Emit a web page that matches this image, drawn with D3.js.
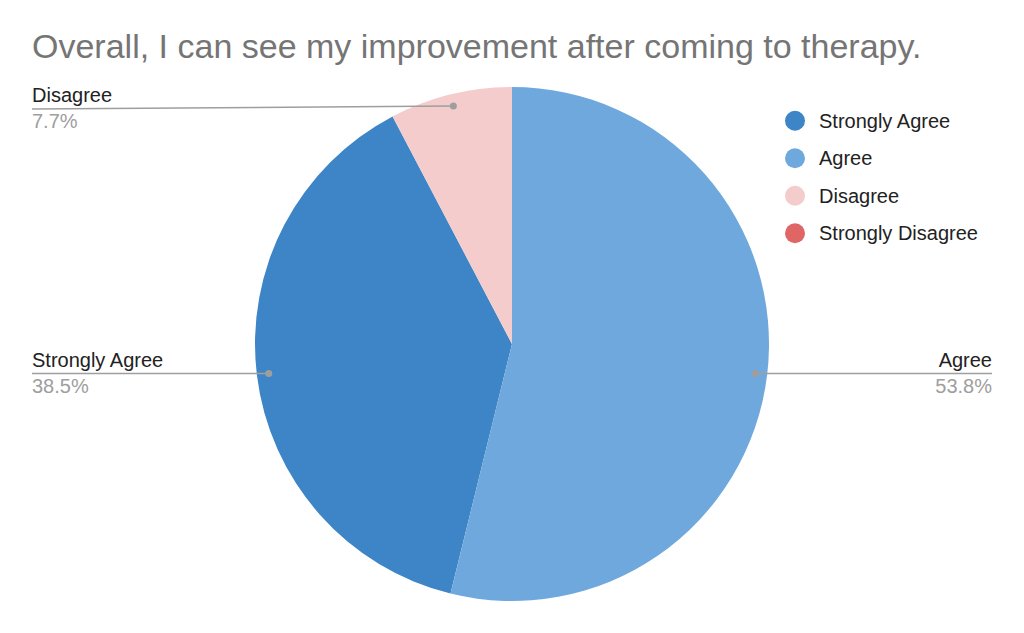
<!DOCTYPE html>
<html>
<head>
<meta charset="utf-8">
<script src="https://cdn.jsdelivr.net/npm/d3@7"></script>
<style>
  html, body { margin: 0; padding: 0; background: #fff; }
  svg { display: block; font-family: Arial, "Liberation Sans", sans-serif; }
</style>
</head>
<body>
<svg id="chart" width="1024" height="633"></svg>
<script>
const titleText = "Overall, I can see my improvement after coming to therapy.";
const categories = ["Strongly Agree", "Agree", "Disagree", "Strongly Disagree"];
const counts = [5, 7, 1, 0];
const colors = ["#3d85c6", "#6fa8dc", "#f4cccc", "#e06666"];
// slice drawing order (clockwise from 12 o'clock)
const sliceOrder = ["Agree", "Strongly Agree", "Disagree", "Strongly Disagree"];

const W = 1024, H = 633;
const cx = 512, cy = 344, R = 257, dotR = 245;
const svg = d3.select("#chart");

svg.append("text")
  .attr("x", 32).attr("y", 58)
  .attr("font-size", 34)
  .attr("fill", "#757575")
  .text(titleText);

const color = d3.scaleOrdinal().domain(categories).range(colors);
const data = categories.map((c, i) => ({ name: c, value: counts[i] }));
const total = d3.sum(counts);

const pie = d3.pie()
  .value(d => d.value)
  .sort((a, b) => sliceOrder.indexOf(a.name) - sliceOrder.indexOf(b.name));
const arcs = pie(data);

const arc = d3.arc().innerRadius(0).outerRadius(R);
const dotArc = d3.arc().innerRadius(dotR).outerRadius(dotR);

const g = svg.append("g").attr("transform", `translate(${cx},${cy})`);
g.selectAll("path.slice")
  .data(arcs.filter(d => d.value > 0))
  .join("path")
  .attr("class", "slice")
  .attr("d", arc)
  .attr("fill", d => color(d.data.name));

// Leader lines and labels
const fmt = v => (v / total * 100).toFixed(1) + "%";
const leftX = 32, rightX = 992;
arcs.filter(d => d.value > 0).forEach(d => {
  const [dx, dy] = dotArc.centroid(d);
  const px = cx + dx, py = cy + dy;
  const left = dx < 0;
  const tx = left ? leftX : rightX;
  // label line sits slightly below the dot when the dot is in the upper part
  const ly = py < cy - R * 0.8 ? py + 3 : py;
  svg.append("line")
    .attr("x1", tx).attr("y1", ly)
    .attr("x2", px).attr("y2", py)
    .attr("stroke", "#9e9e9e").attr("stroke-width", 1.5);
  svg.append("circle")
    .attr("cx", px).attr("cy", py).attr("r", 3.5)
    .attr("fill", "#9e9e9e");
  svg.append("text")
    .attr("x", tx).attr("y", ly - 7)
    .attr("text-anchor", left ? "start" : "end")
    .attr("font-size", 20).attr("fill", "#222")
    .text(d.data.name);
  svg.append("text")
    .attr("x", tx).attr("y", ly + 19)
    .attr("text-anchor", left ? "start" : "end")
    .attr("font-size", 20).attr("fill", "#9e9e9e")
    .text(fmt(d.value));
});

// Legend
const legend = svg.append("g").attr("transform", "translate(795,120.7)");
const ly = d3.scalePoint().domain(categories).range([0, 112.5]);
const items = legend.selectAll("g.item").data(categories).join("g")
  .attr("class", "item")
  .attr("transform", c => `translate(0,${ly(c)})`);
items.append("circle").attr("r", 10).attr("fill", c => color(c));
items.append("text")
  .attr("x", 24).attr("y", 7)
  .attr("font-size", 20).attr("fill", "#222")
  .text(c => c);
</script>
</body>
</html>
